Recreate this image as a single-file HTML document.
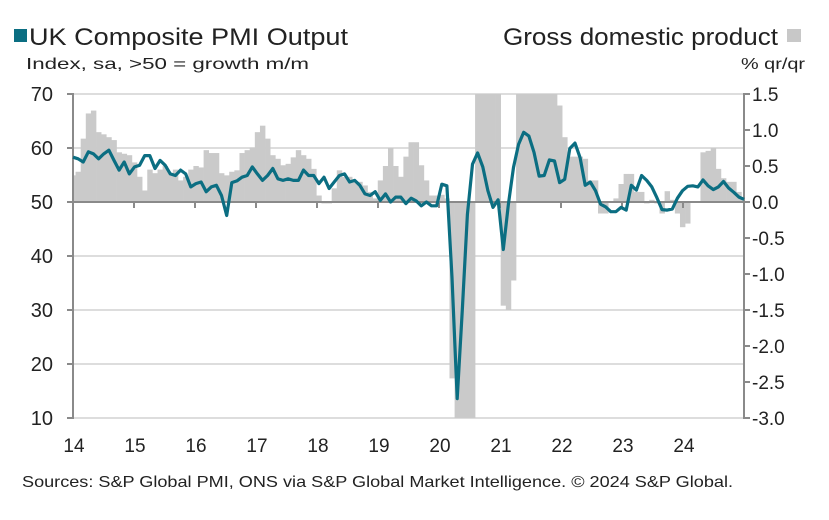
<!DOCTYPE html>
<html><head><meta charset="utf-8"><style>
body{margin:0;background:#fff;font-family:"Liberation Sans",sans-serif;}
svg text{font-family:"Liberation Sans",sans-serif;fill:#222;}
</style></head><body>
<svg width="829" height="520" style="position:absolute;left:0;top:0">
<g id="chart"></g>
<rect x="14" y="29" width="13" height="13" fill="#0b6e82"/>
<text x="29" y="45" font-size="24" textLength="319" lengthAdjust="spacingAndGlyphs">UK Composite PMI Output</text>
<text x="26" y="69" font-size="16" textLength="283" lengthAdjust="spacingAndGlyphs">Index, sa, &gt;50 = growth m/m</text>
<text x="503" y="45" font-size="24" textLength="275" lengthAdjust="spacingAndGlyphs">Gross domestic product</text>
<rect x="787" y="29" width="14" height="13" fill="#c8c8c8"/>
<text x="741" y="69" font-size="16" textLength="64" lengthAdjust="spacingAndGlyphs">% qr/qr</text>
<text x="22" y="487" font-size="16" textLength="711" lengthAdjust="spacingAndGlyphs">Sources: S&amp;P Global PMI, ONS via S&amp;P Global Market Intelligence. © 2024 S&amp;P Global.</text>
</svg>
<script>
const years=["14","15","16","17","18","19","20","21","22","23","24"];
const leftTicks=[10,20,30,40,50,60,70];
const rightTicks=[-3.0,-2.5,-2.0,-1.5,-1.0,-0.5,0.0,0.5,1.0,1.5];
const pmi=[58.3,58.0,57.4,59.3,58.9,58.0,58.9,59.6,57.7,55.9,57.4,55.2,
56.5,56.8,58.6,58.6,56.2,57.7,56.8,55.2,54.9,55.9,55.2,52.8,
53.4,53.7,51.9,52.8,53.1,51.2,47.5,53.6,53.9,54.6,54.9,56.5,
55.2,54.0,54.9,56.2,54.3,54.0,54.3,54.0,54.0,55.9,54.9,54.9,
53.4,54.6,52.5,53.7,54.9,55.2,53.7,54.0,53.1,51.5,51.2,51.9,
50.3,51.5,50.0,50.9,50.9,49.7,50.7,50.2,49.3,50.0,49.3,49.3,
53.3,53.0,36.0,13.6,30.0,47.7,57.0,59.1,56.5,52.1,49.0,50.4,
41.2,49.6,56.4,60.7,62.9,62.2,59.2,54.8,54.9,57.8,57.6,53.6,
54.2,59.9,60.9,58.2,53.1,53.7,52.1,49.6,49.1,48.2,48.2,49.0,
48.5,53.1,52.2,54.9,54.0,52.8,50.8,48.6,48.5,48.7,50.7,52.1,
52.9,53.0,52.8,54.1,53.0,52.3,52.8,53.8,52.6,51.8,50.9,50.5];
const gdp=[0.37,0.42,0.88,1.23,1.27,0.97,0.94,0.90,0.86,0.69,0.67,0.65,
0.55,0.35,0.16,0.45,0.40,0.45,0.50,0.40,0.45,0.30,0.35,0.45,
0.50,0.48,0.72,0.68,0.68,0.40,0.37,0.42,0.44,0.68,0.72,0.76,
0.97,1.06,0.88,0.65,0.60,0.51,0.53,0.62,0.72,0.65,0.60,0.46,
0.09,-0.02,-0.02,0.19,0.44,0.35,0.35,0.28,0.28,0.23,0.14,0.05,
0.30,0.50,0.75,0.50,0.35,0.63,0.83,0.83,0.51,0.30,0.09,0.09,
0.10,0.05,-2.45,-3.2,-3.2,-3.2,-3.2,1.8,1.8,1.8,1.8,1.8,
-1.44,-1.50,-1.09,1.8,1.8,1.8,1.8,1.8,1.8,1.8,1.8,1.34,
0.90,0.63,0.63,0.63,0.60,0.30,0.30,-0.16,-0.16,0.00,0.05,0.25,
0.39,0.39,0.14,0.14,-0.02,0.03,-0.02,-0.16,0.15,0.03,-0.16,-0.35,
-0.30,0.00,0.00,0.69,0.71,0.75,0.46,0.33,0.28,0.28,0.14,0.07];
const X0=73,X1=744,N=pmi.length;
const yL=v=>202-(v-50)*5.4;
const yR=v=>202-v*72;
const xi=i=>X0+i*(X1-X0)/(N-1);
const xYear=k=>X0+k*61;
const NS="http://www.w3.org/2000/svg";
const g=document.getElementById('chart');
function mk(t,a){const e=document.createElementNS(NS,t);for(const k in a)e.setAttribute(k,a[k]);g.appendChild(e);return e;}
leftTicks.forEach(v=>{if(v!==50){const l=mk('line',{x1:X0,x2:X1,y1:yL(v),y2:yL(v),stroke:'#bbb','stroke-width':1});

}});
const clip=mk('clipPath',{id:'pc'});clip.appendChild(document.createElementNS(NS,'rect'));
clip.firstChild.setAttribute('x',X0);clip.firstChild.setAttribute('y',94);clip.firstChild.setAttribute('width',X1-X0);clip.firstChild.setAttribute('height',324);
const bw=(X1-X0)/(N-1);
gdp.forEach((v,i)=>{const y=yR(v),y0=yR(0);
const r=mk('rect',{x:xi(i)-bw/2,y:Math.min(y,y0),width:bw+0.3,height:Math.abs(y-y0),fill:'#cacaca','clip-path':'url(#pc)'});

});
const z=mk('line',{x1:X0,x2:X1,y1:yL(50),y2:yL(50),stroke:'#8a8a8a','stroke-width':2});


const al=mk('line',{x1:X0,x2:X0,y1:93,y2:419,stroke:'#8a8a8a','stroke-width':2});


const ar=mk('line',{x1:X1,x2:X1,y1:93,y2:419,stroke:'#8a8a8a','stroke-width':2});


leftTicks.forEach(v=>{mk('line',{x1:X0-6,x2:X0,y1:yL(v),y2:yL(v),stroke:'#8a8a8a','stroke-width':2});
const t=mk('text',{x:53,y:yL(v)+7,'text-anchor':'end','font-size':20});t.textContent=v;

});
rightTicks.forEach(v=>{mk('line',{x1:X1,x2:X1+6,y1:yR(v),y2:yR(v),stroke:'#8a8a8a','stroke-width':2});
const t=mk('text',{x:752,y:yR(v)+7,'font-size':19});t.textContent=v.toFixed(1);

});
years.forEach((s,k)=>{mk('line',{x1:xYear(k),x2:xYear(k),y1:202,y2:208,stroke:'#8a8a8a','stroke-width':2});
const t=mk('text',{x:xYear(k)+1,y:452,'text-anchor':'middle','font-size':19});t.textContent=s;

});
const p=mk('polyline',{points:pmi.map((v,i)=>xi(i).toFixed(1)+','+yL(v).toFixed(1)).join(' '),fill:'none',stroke:'#0b6e82','stroke-width':3.2,'stroke-linejoin':'round'});


</script>
</body></html>
